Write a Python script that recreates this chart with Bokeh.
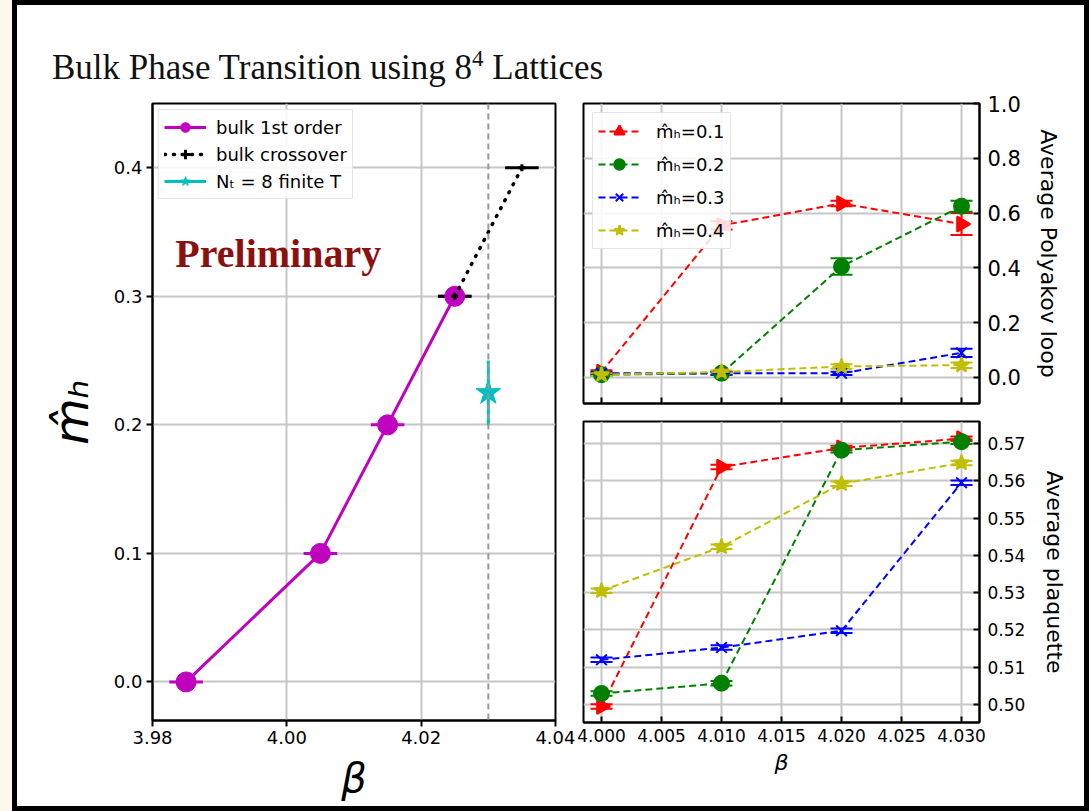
import numpy as np
from bokeh.plotting import figure
from bokeh.models import (ColumnDataSource, Whisker, Span, Label, Div, Range1d,
                          FixedTicker, NumeralTickFormatter, TeeHead)
from bokeh.layouts import row, column
from bokeh.embed import file_html
from bokeh.resources import INLINE

# ---------------- data ----------------
# left panel: bulk phase diagram
bulk1_beta = [3.985, 4.005, 4.015, 4.025]
bulk1_mh = [0.0, 0.1, 0.2, 0.3]
bulk1_xerr = [0.0025, 0.0025, 0.0025, 0.0025]
cross_beta = [4.025, 4.035]
cross_mh = [0.3, 0.4]
cross_xerr = [0.0025, 0.0025]
finT_beta = [4.030]
finT_mh = [0.225]
finT_yerr = [0.025]
finT_line_beta = 4.030

left_xticks = [3.98, 4.00, 4.02, 4.04]
left_yticks = [0.0, 0.1, 0.2, 0.3, 0.4]

# right panels
beta_r = [4.000, 4.010, 4.020, 4.030]
series_labels = ["m\u0302\u2095=0.1", "m\u0302\u2095=0.2", "m\u0302\u2095=0.3", "m\u0302\u2095=0.4"]

poly_01 = [0.020, 0.555, 0.635, 0.560]
poly_01_err = [0.006, 0.015, 0.010, 0.040]
poly_02 = [0.010, 0.015, 0.405, 0.625]
poly_02_err = [0.005, 0.006, 0.030, 0.020]
poly_03 = [0.015, 0.015, 0.015, 0.090]
poly_03_err = [0.005, 0.005, 0.006, 0.015]
poly_04 = [0.010, 0.020, 0.040, 0.045]
poly_04_err = [0.005, 0.005, 0.008, 0.010]

plaq_01 = [0.4995, 0.5637, 0.5688, 0.5713]
plaq_02 = [0.5030, 0.5057, 0.5682, 0.5705]
plaq_03 = [0.5120, 0.5153, 0.5198, 0.5595]
plaq_04 = [0.5305, 0.5423, 0.5592, 0.5648]
plaq_err = [0.0006, 0.0006, 0.0006, 0.0006]

right_xticks = [4.000, 4.005, 4.010, 4.015, 4.020, 4.025, 4.030]
poly_yticks = [0.0, 0.2, 0.4, 0.6, 0.8, 1.0]
plaq_yticks = [0.50, 0.51, 0.52, 0.53, 0.54, 0.55, 0.56, 0.57]

# ---------------- styles ----------------
FONT = "DejaVu Sans"
GRID = "#c6c6c6"
colors = ["#ff0000", "#008000", "#0000ff", "#bfbf00"]
markers = ["triangle", "circle", "x", "star"]
angles = [-np.pi / 2, 0, 0, 0]
msizes = [15, 15, 15, 16]


def style(p):
    p.outline_line_color = "black"
    p.outline_line_width = 2
    p.grid.grid_line_color = GRID
    p.grid.grid_line_width = 2
    for ax in p.axis:
        ax.axis_line_width = 2
        ax.major_tick_line_width = 2
        ax.minor_tick_line_color = None
        ax.major_label_text_font = FONT
        ax.axis_label_text_font = FONT
        ax.axis_label_text_font_style = "normal"
        ax.axis_label_text_color = "black"
        ax.major_label_text_color = "black"


def style_legend(lg, margin, font_size, glyph_h, spacing, standoff):
    lg.location = "top_left"
    lg.margin = margin
    lg.padding = 5
    lg.spacing = spacing
    lg.glyph_width = 42
    lg.glyph_height = glyph_h
    lg.label_standoff = standoff
    lg.label_text_font = FONT
    lg.label_text_font_size = font_size
    lg.label_text_color = "black"
    lg.border_line_color = "#cccccc"
    lg.background_fill_alpha = 0.85


# ---------------- left panel ----------------
left = figure(width=558, height=716, x_range=Range1d(3.98, 4.04), y_range=Range1d(-0.03, 0.45),
              output_backend="svg", toolbar_location=None,
              min_border_left=135, min_border_right=20, min_border_top=13, min_border_bottom=86)
style(left)
left.xaxis.ticker = FixedTicker(ticks=left_xticks)
left.yaxis.ticker = FixedTicker(ticks=left_yticks)
left.xaxis.formatter = NumeralTickFormatter(format="0.00")
left.yaxis.formatter = NumeralTickFormatter(format="0.0")
for ax in left.axis:
    ax.major_tick_in = 0
    ax.major_tick_out = 6
    ax.major_label_text_font_size = "18px"
    ax.major_label_standoff = 4
left.xaxis.axis_label = "\u03b2"
left.xaxis.axis_label_text_font_size = "40px"
left.xaxis.axis_label_text_font_style = "italic"
left.xaxis.axis_label_standoff = 8
left.yaxis.axis_label = "m\u0302\u2095"
left.yaxis.axis_label_text_font_size = "48px"
left.yaxis.axis_label_text_font_style = "italic"
left.yaxis.axis_label_standoff = 12

left.add_layout(Span(location=finT_line_beta, dimension="height", line_color="#999999",
                     line_width=2, line_dash="6 4"))

src_b1 = ColumnDataSource(dict(x=bulk1_beta, y=bulk1_mh,
                               lo=[b - e for b, e in zip(bulk1_beta, bulk1_xerr)],
                               hi=[b + e for b, e in zip(bulk1_beta, bulk1_xerr)]))
left.line("x", "y", source=src_b1, line_color="#bf00bf", line_width=3, legend_label="bulk 1st order")
left.scatter("x", "y", source=src_b1, marker="circle", size=20, color="#bf00bf", legend_label="bulk 1st order")
left.add_layout(Whisker(source=src_b1, base="y", lower="lo", upper="hi", dimension="width",
                        line_color="#bf00bf", line_width=3, upper_head=None, lower_head=None))

src_cr = ColumnDataSource(dict(x=cross_beta, y=cross_mh,
                               lo=[b - e for b, e in zip(cross_beta, cross_xerr)],
                               hi=[b + e for b, e in zip(cross_beta, cross_xerr)]))
left.line("x", "y", source=src_cr, line_color="black", line_width=3.5, line_dash="1 8",
          line_cap="round", legend_label="bulk crossover")
left.scatter("x", "y", source=src_cr, marker="cross", size=7, line_width=3, color="black",
             legend_label="bulk crossover")
left.add_layout(Whisker(source=src_cr, base="y", lower="lo", upper="hi", dimension="width",
                        line_color="black", line_width=3, upper_head=None, lower_head=None))

src_ft = ColumnDataSource(dict(x=finT_beta, y=finT_mh,
                               lo=[m - e for m, e in zip(finT_mh, finT_yerr)],
                               hi=[m + e for m, e in zip(finT_mh, finT_yerr)]))
left.add_layout(Whisker(source=src_ft, base="x", lower="lo", upper="hi", dimension="height",
                        line_color="#00bfbf", line_width=3, upper_head=None, lower_head=None))
left.line("x", "y", source=src_ft, line_color="#00bfbf", line_width=3, legend_label="N\u209c = 8 finite T")
left.scatter("x", "y", source=src_ft, marker="star", size=26, color="#00bfbf",
             legend_label="N\u209c = 8 finite T")

left.add_layout(Label(x=3.9834, y=0.333, text="Preliminary", text_font="Liberation Serif",
                      text_font_size="40px", text_font_style="bold", text_color="#8b1010",
                      text_baseline="middle"))

style_legend(left.legend[0], margin=6, font_size="18px", glyph_h=24, spacing=3, standoff=10)

# ---------------- right top panel ----------------
tr = figure(width=509, height=322, x_range=Range1d(3.9985, 4.0315), y_range=Range1d(-0.095, 1.0),
            y_axis_location="right", output_backend="svg", toolbar_location=None,
            min_border_left=8, min_border_right=105, min_border_top=13, min_border_bottom=9)
style(tr)
tr.xaxis.ticker = FixedTicker(ticks=right_xticks)
tr.yaxis.ticker = FixedTicker(ticks=poly_yticks)
tr.yaxis.formatter = NumeralTickFormatter(format="0.0")
tr.xaxis.major_label_overrides = {t: "" for t in right_xticks}
tr.xaxis.major_label_text_font_size = "1px"
tr.xaxis.major_label_standoff = 0
for ax in tr.axis:
    ax.major_tick_in = 6
    ax.major_tick_out = 0
tr.yaxis.major_label_text_font_size = "21px"
tr.yaxis.major_label_standoff = 8
tr.yaxis.axis_label = "Average Polyakov loop"
tr.yaxis.axis_label_text_font_size = "22px"
tr.yaxis.axis_label_standoff = 12

poly_vals = [poly_01, poly_02, poly_03, poly_04]
poly_errs = [poly_01_err, poly_02_err, poly_03_err, poly_04_err]
for vals, errs, c, mk, ang, ms, lbl in zip(poly_vals, poly_errs, colors, markers, angles, msizes, series_labels):
    s = ColumnDataSource(dict(x=beta_r, y=vals,
                              lo=[v - e for v, e in zip(vals, errs)],
                              hi=[v + e for v, e in zip(vals, errs)]))
    tr.line("x", "y", source=s, line_color=c, line_width=2, line_dash="7 4", legend_label=lbl)
    tr.add_layout(Whisker(source=s, base="x", lower="lo", upper="hi", dimension="height",
                          line_color=c, line_width=2,
                          upper_head=TeeHead(size=22, line_color=c, line_width=2),
                          lower_head=TeeHead(size=22, line_color=c, line_width=2)))
    tr.scatter("x", "y", source=s, marker=mk, angle=ang, size=ms, color=c, line_width=2, legend_label=lbl)

style_legend(tr.legend[0], margin=9, font_size="18px", glyph_h=26, spacing=7, standoff=16)

# ---------------- right bottom panel ----------------
br = figure(width=509, height=394, x_range=Range1d(3.9985, 4.0315), y_range=Range1d(0.4952, 0.5759),
            y_axis_location="right", output_backend="svg", toolbar_location=None,
            min_border_left=8, min_border_right=105, min_border_top=9, min_border_bottom=84)
style(br)
br.xaxis.ticker = FixedTicker(ticks=right_xticks)
br.yaxis.ticker = FixedTicker(ticks=plaq_yticks)
br.xaxis.formatter = NumeralTickFormatter(format="0.000")
br.yaxis.formatter = NumeralTickFormatter(format="0.00")
for ax in br.axis:
    ax.major_tick_in = 6
    ax.major_tick_out = 0
    ax.major_label_text_font_size = "17px"
br.yaxis.major_label_standoff = 8
br.xaxis.major_label_standoff = 6
br.yaxis.axis_label = "Average plaquette"
br.yaxis.axis_label_text_font_size = "22px"
br.yaxis.axis_label_standoff = 14
br.xaxis.axis_label = "\u03b2"
br.xaxis.axis_label_text_font_size = "22px"
br.xaxis.axis_label_text_font_style = "italic"
br.xaxis.axis_label_standoff = 5

plaq_vals = [plaq_01, plaq_02, plaq_03, plaq_04]
for vals, c, mk, ang, ms in zip(plaq_vals, colors, markers, angles, msizes):
    s = ColumnDataSource(dict(x=beta_r, y=vals,
                              lo=[v - e for v, e in zip(vals, plaq_err)],
                              hi=[v + e for v, e in zip(vals, plaq_err)]))
    br.line("x", "y", source=s, line_color=c, line_width=2, line_dash="7 4")
    br.add_layout(Whisker(source=s, base="x", lower="lo", upper="hi", dimension="height",
                          line_color=c, line_width=2,
                          upper_head=TeeHead(size=22, line_color=c, line_width=2),
                          lower_head=TeeHead(size=22, line_color=c, line_width=2)))
    br.scatter("x", "y", source=s, marker=mk, angle=ang, size=ms, color=c, line_width=2)

# ---------------- page frame ----------------
title = Div(width=1067, height=85, margin=0,
            text='<div style="font-family:\'Liberation Serif\',serif;font-size:35px;color:#111;'
                 'padding-left:35px;padding-top:41px;white-space:nowrap;line-height:1.1">'
                 'Bulk Phase Transition using 8<sup style="font-size:23px">4</sup> Lattices</div>',
            styles={"background-color": "white"})

content = column(title, row(left, column(tr, br, spacing=0), spacing=0), spacing=0,
                 styles={"background-color": "white"})

cream = Div(width=12, height=811, margin=0, styles={"background-color": "#fdf8ec"})
bl = Div(width=5, height=811, margin=0, styles={"background-color": "black"})
brd = Div(width=5, height=811, margin=0, styles={"background-color": "black"})
bt = Div(width=1067, height=5, margin=0, styles={"background-color": "black"})
bb = Div(width=1067, height=5, margin=0, styles={"background-color": "black"})

page = row(cream, bl, column(bt, content, bb, spacing=0), brd, spacing=0)

open("out.html", "w").write(file_html(page, INLINE))
